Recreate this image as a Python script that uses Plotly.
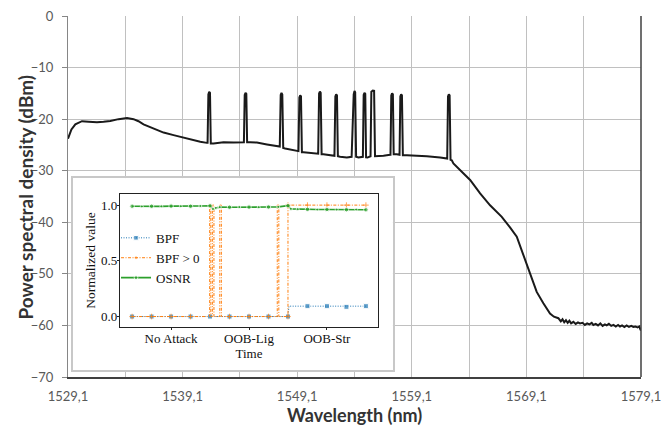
import plotly.graph_objects as go

# ---------------- main spectrum ----------------
WAVELENGTH_NM = [
    1529.10, 1529.21, 1529.40, 1529.74, 1530.05, 1530.32, 1530.90, 1531.63, 1532.20, 1532.79,
    1533.51, 1534.25, 1534.82, 1535.25, 1535.69, 1536.57, 1537.44, 1538.31, 1539.18, 1540.05,
    1540.64, 1541.22,
    1541.28, 1541.35, 1541.42, 1541.49, 1541.56, 1541.80,
    1542.67, 1543.54, 1544.42,
    1544.45, 1544.52, 1544.59, 1544.66, 1544.73, 1545.00,
    1545.58, 1546.46, 1547.33,
    1547.58, 1547.66, 1547.73, 1547.80, 1547.88, 1548.05,
    1548.49, 1549.07,
    1549.21, 1549.29, 1549.36, 1549.43, 1549.51, 1549.65,
    1550.23, 1550.82,
    1550.93, 1551.01, 1551.08, 1551.15, 1551.23, 1551.39,
    1551.98,
    1552.35, 1552.43, 1552.50, 1552.57, 1552.65, 1552.85,
    1553.43,
    1553.85, 1553.95, 1554.03, 1554.10, 1554.16, 1554.24, 1554.44,
    1554.83, 1554.90, 1554.97, 1555.04, 1555.11, 1555.23,
    1555.50, 1555.57, 1555.70, 1555.81, 1555.89, 1556.05,
    1556.63, 1557.21,
    1557.24, 1557.31, 1557.38, 1557.45, 1557.52, 1557.79,
    1558.03, 1558.10, 1558.17, 1558.24, 1558.32, 1558.67,
    1559.24, 1560.41, 1561.57, 1562.15,
    1562.19, 1562.26, 1562.33, 1562.40, 1562.48, 1562.59,
    1562.73, 1563.46, 1564.19, 1565.06, 1565.93, 1566.95, 1567.30, 1567.67, 1568.26, 1568.70,
    1568.98, 1569.42, 1570.00, 1570.58, 1571.16, 1571.50, 1571.89,
    1572.10, 1572.25, 1572.40, 1572.55, 1572.70, 1572.85, 1573.00, 1573.20, 1573.40, 1573.60,
    1573.78, 1574.00, 1574.20, 1574.40, 1574.60, 1574.80, 1574.94, 1575.15, 1575.35, 1575.55,
    1575.75, 1575.95, 1576.11, 1576.30, 1576.50, 1576.70, 1576.90, 1577.10, 1577.27, 1577.45,
    1577.65, 1577.85, 1578.05, 1578.25, 1578.43, 1578.60, 1578.80, 1578.95, 1579.05, 1579.10,
]
POWER_DBM = [
    -23.8, -23.0, -22.0, -21.0, -20.6, -20.4, -20.5, -20.6, -20.5, -20.35,
    -20.0, -19.8, -20.0, -20.4, -21.0, -21.8, -22.6, -23.1, -23.6, -24.1,
    -24.4, -24.6,
    -24.6, -15.2, -14.7, -14.9, -24.7, -24.7,
    -24.5, -24.55, -24.5,
    -24.5, -15.3, -14.9, -15.1, -24.5, -24.5,
    -24.55, -24.9, -25.2,
    -25.3, -15.3, -14.9, -15.2, -25.6, -25.7,
    -25.9, -26.2,
    -26.2, -15.8, -15.4, -15.6, -26.4, -26.4,
    -26.55, -26.7,
    -26.7, -15.0, -14.65, -14.9, -26.8, -26.8,
    -27.0,
    -27.1, -15.6, -15.2, -15.4, -27.2, -27.3,
    -27.45,
    -27.3, -19.5, -15.2, -14.55, -14.8, -27.3, -27.45,
    -27.3, -15.3, -14.9, -15.1, -27.4, -27.45,
    -27.2, -14.7, -14.45, -14.5, -27.2, -27.2,
    -27.1, -26.9,
    -26.9, -15.4, -15.0, -15.2, -26.8, -26.8,
    -26.9, -15.6, -15.2, -15.4, -27.0, -27.0,
    -27.05, -27.2, -27.45, -27.6,
    -27.65, -15.6, -15.2, -15.4, -27.9, -28.0,
    -28.6, -30.2, -31.8, -34.4, -36.7, -38.95, -39.9, -41.0, -42.8, -45.5,
    -47.3, -50.3, -53.5, -55.7, -57.7, -58.3, -58.6,
    -59.2, -58.8, -59.4, -59.0, -59.5, -59.1, -59.6, -59.3, -59.7, -59.4,
    -59.6, -59.5, -59.9, -59.6, -59.8, -59.5, -59.9, -59.7, -60.0, -59.6,
    -60.1, -59.8, -60.0, -59.7, -60.1, -59.9, -60.2, -59.9, -60.2, -60.0,
    -60.3, -60.0, -60.3, -60.1, -60.3, -60.2, -60.4, -60.2, -60.8, -61.0,
]

X_TICK_VALUES = [1529.1, 1534.1, 1539.1, 1544.1, 1549.1, 1554.1, 1559.1, 1564.1, 1569.1, 1574.1, 1579.1]
X_TICK_LABELS = ["1529,1", "", "1539,1", "", "1549,1", "", "1559,1", "", "1569,1", "", "1579,1"]
Y_TICK_VALUES = [0, -10, -20, -30, -40, -50, -60, -70]
X_TITLE = "Wavelength (nm)"
Y_TITLE = "Power spectral density (dBm)"

# ---------------- inset (normalized detector outputs) ----------------
BPF_TIME = [0, 1, 2, 3, 4, 5, 6, 7, 8, 8.05, 9, 10, 11, 12]
BPF_VALUE = [0, 0, 0, 0, 0, 0, 0, 0, 0, 0.093, 0.093, 0.093, 0.087, 0.093]

BPF_POS_TIME = [0, 1, 2, 3, 3.98, 3.98, 4.04, 4.04, 4.12, 4.12, 4.2, 4.2, 4.5, 4.5, 4.58, 4.58,
                5, 6, 7, 7.45, 7.45, 7.53, 7.53, 8, 8, 9, 10, 11, 12]
BPF_POS_VALUE = [0, 0, 0, 0, 0, 1, 1, 0, 0, 1, 1, 0, 0, 1, 1, 0,
                 0, 0, 0, 0, 1, 1, 0, 0, 1, 1, 1, 1, 1]

OSNR_TIME = [0, 0.5, 1, 1.5, 2, 2.5, 3, 3.5, 4, 4.15, 4.3, 4.5, 5, 5.5, 6, 6.5, 7, 7.5,
             8, 8.15, 8.5, 9, 9.5, 10, 10.5, 11, 11.5, 12]
OSNR_VALUE = [0.99, 0.988, 0.99, 0.989, 0.991, 0.99, 0.99, 0.992, 0.994, 0.965, 0.975, 0.982,
              0.981, 0.983, 0.982, 0.981, 0.983, 0.984, 0.995, 0.966, 0.963, 0.962, 0.96,
              0.961, 0.96, 0.959, 0.961, 0.958]

PHASE_CENTERS = [2, 6, 10]
PHASE_LABELS = ["No Attack", "OOB-Lig", "OOB-Str"]
PHASE_BOUNDARIES = [4, 8]
INSET_Y_TICKS = [0.0, 0.5, 1.0]


def marker_sizes(times, big, small):
    return [big if float(t).is_integer() else small for t in times]


MAIN_FONT = "Lato"
SERIF = "Liberation Serif"

fig = go.Figure()

fig.add_trace(go.Scatter(
    x=WAVELENGTH_NM, y=POWER_DBM, mode="lines",
    line=dict(color="#1a1a1a", width=2), showlegend=False, xaxis="x", yaxis="y",
))

# empty trace to create the inset frame subplot
fig.add_trace(go.Scatter(x=[], y=[], xaxis="x2", yaxis="y2", showlegend=False))

fig.add_trace(go.Scatter(
    x=BPF_TIME, y=BPF_VALUE, name="BPF", mode="lines+markers",
    line=dict(color="#1f77b4", width=1, dash="1px,1.5px"),
    marker=dict(symbol="square", size=marker_sizes(BPF_TIME, 5, 0), color="#1f77b4"),
    xaxis="x3", yaxis="y3",
))
fig.add_trace(go.Scatter(
    x=BPF_POS_TIME, y=BPF_POS_VALUE, name="BPF > 0", mode="lines+markers",
    line=dict(color="#ff7f0e", width=1, dash="3px,1.5px,1px,1.5px"),
    marker=dict(symbol="cross-thin", size=marker_sizes(BPF_POS_TIME, 4, 0),
                color="#ff7f0e", line=dict(color="#ff7f0e", width=1)),
    xaxis="x3", yaxis="y3",
))
fig.add_trace(go.Scatter(
    x=OSNR_TIME, y=OSNR_VALUE, name="OSNR", mode="lines+markers",
    line=dict(color="#2ca02c", width=1.6),
    marker=dict(symbol="circle", size=marker_sizes(OSNR_TIME, 4.5, 3), color="#2ca02c"),
    xaxis="x3", yaxis="y3",
))

shapes = [
    dict(type="line", xref="paper", yref="paper", x0=1, x1=1, y0=0, y1=1,
         line=dict(color="#404040", width=1.5), layer="above"),
]
for b in PHASE_BOUNDARIES:
    shapes.append(dict(type="line", xref="x3", yref="y3 domain", x0=b, x1=b, y0=0, y1=1,
                       line=dict(color="#a0a0a0", width=1, dash="dot"), layer="below"))

annotations = [
    dict(text=X_TITLE, xref="paper", yref="paper", x=0.5, y=-0.104,
         xanchor="center", yanchor="middle", showarrow=False,
         font=dict(family=MAIN_FONT, size=18, color="#333333", weight="bold")),
    dict(text=Y_TITLE, xref="paper", yref="paper", x=-0.0733, y=0.5, textangle=-90,
         xanchor="center", yanchor="middle", showarrow=False,
         font=dict(family=MAIN_FONT, size=19, color="#333333", weight="bold")),
]

fig.update_layout(
    width=670, height=429,
    margin=dict(l=68, r=29, t=16, b=52, autoexpand=False),
    paper_bgcolor="white", plot_bgcolor="white",
    font=dict(family=MAIN_FONT, size=13, color="#595959"),
    shapes=shapes,
    annotations=annotations,
    xaxis=dict(
        domain=[0, 1], range=[1529.1, 1579.1], tickmode="array",
        tickvals=X_TICK_VALUES, ticktext=X_TICK_LABELS, automargin=False,
        showgrid=True, gridcolor="#c0c0c0", gridwidth=1, zeroline=False,
        showline=True, linecolor="#404040", linewidth=1.5, ticks="",
        ticklabelstandoff=7, anchor="y",
    ),
    yaxis=dict(
        domain=[0, 1], range=[-70, 0], tickmode="array", tickvals=Y_TICK_VALUES,
        automargin=False,
        showgrid=True, gridcolor="#c0c0c0", gridwidth=1, zeroline=False,
        showline=True, linecolor="#868686", linewidth=1.2,
        ticks="outside", ticklen=5, tickcolor="#868686", ticklabelstandoff=6,
        anchor="x",
    ),
    xaxis2=dict(
        domain=[0.0087, 0.567], range=[0, 1], showgrid=False, zeroline=False,
        showticklabels=False, ticks="", showline=True, mirror=True, automargin=False,
        linecolor="#c8c8c8", linewidth=1.5, anchor="y2", fixedrange=True,
    ),
    yaxis2=dict(
        domain=[0.0194, 0.551], range=[0, 1], showgrid=False, zeroline=False,
        showticklabels=False, ticks="", showline=True, mirror=True, automargin=False,
        linecolor="#c8c8c8", linewidth=1.5, anchor="x2", fixedrange=True,
    ),
    xaxis3=dict(
        domain=[0.0908, 0.541], range=[-0.62, 12.62], tickmode="array",
        tickvals=PHASE_CENTERS, ticktext=PHASE_LABELS, automargin=False,
        showgrid=False, zeroline=False, showline=True, mirror=True,
        linecolor="#222222", linewidth=1.2, ticks="outside", ticklen=2, tickcolor="#222222",
        tickfont=dict(family=SERIF, size=13, color="#111111"), ticklabelstandoff=-3,
        title=dict(text="Time", standoff=0, font=dict(family=SERIF, size=13, color="#111111")),
        anchor="y3",
    ),
    yaxis3=dict(
        domain=[0.1385, 0.507], range=[-0.094, 1.10], tickmode="array",
        tickvals=INSET_Y_TICKS, tickformat=".1f", automargin=False,
        showgrid=False, zeroline=False, showline=True, mirror=True,
        linecolor="#222222", linewidth=1.2, ticks="outside", ticklen=2, tickcolor="#222222",
        tickfont=dict(family=SERIF, size=13, color="#111111"), ticklabelstandoff=-3,
        title=dict(text="Normalized value", standoff=2,
                   font=dict(family=SERIF, size=13.5, color="#111111")),
        anchor="x3",
    ),
    legend=dict(
        x=0.0838, y=0.33, xanchor="left", yanchor="middle",
        bgcolor="rgba(0,0,0,0)", borderwidth=0,
        font=dict(family=SERIF, size=13, color="#111111"),
        tracegroupgap=0, itemwidth=30,
    ),
)

fig.write_html("out.html", config={"displayModeBar": False},
               post_script="document.body.style.margin='0px';")
